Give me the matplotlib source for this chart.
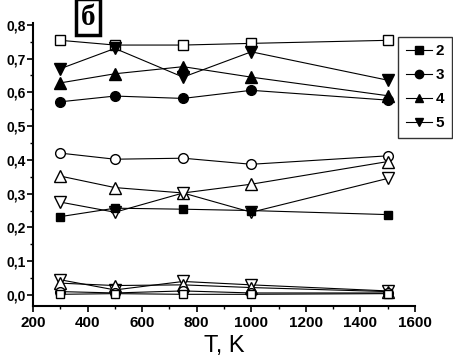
import matplotlib
matplotlib.use('Agg')
import matplotlib.pyplot as plt
from matplotlib.ticker import MultipleLocator, FuncFormatter

# температура, K
T = [300, 500, 750, 1000, 1500]

# верхние кривые
sq_open = [0.754, 0.740, 0.740, 0.745, 0.754]
tri_dn_fill = [0.670, 0.730, 0.645, 0.720, 0.636]
tri_up_fill = [0.628, 0.655, 0.676, 0.645, 0.590]
circ_fill = [0.572, 0.589, 0.582, 0.606, 0.577]
circ_open = [0.420, 0.402, 0.405, 0.387, 0.412]
tri_up_open = [0.352, 0.318, 0.302, 0.328, 0.395]
tri_dn_open = [0.275, 0.245, 0.302, 0.245, 0.345]
sq_fill = [0.232, 0.257, 0.254, 0.250, 0.238]

# нижние кривые (около 0)
low_tri_dn = [0.045, 0.015, 0.040, 0.030, 0.012]
low_tri_up = [0.035, 0.028, 0.030, 0.022, 0.010]
low_circ = [0.010, 0.006, 0.012, 0.006, 0.006]
low_sq = [0.002, 0.004, 0.002, 0.002, 0.004]

legend_labels = ['2', '3', '4', '5']

fig = plt.figure(figsize=(4.53, 3.61), dpi=100)
ax = fig.add_axes([0.073, 0.152, 0.843, 0.784])

kw = dict(color='black', lw=0.8)
ax.plot(T, sq_open, marker='s', ms=7, mfc='white', mec='black', **kw)
ax.plot(T, tri_dn_fill, marker='v', ms=8, mfc='black', **kw)
ax.plot(T, tri_up_fill, marker='^', ms=8, mfc='black', **kw)
ax.plot(T, circ_fill, marker='o', ms=7, mfc='black', **kw)
ax.plot(T, circ_open, marker='o', ms=7, mfc='white', mec='black', **kw)
ax.plot(T, tri_up_open, marker='^', ms=9, mfc='white', mec='black', **kw)
ax.plot(T, tri_dn_open, marker='v', ms=9, mfc='white', mec='black', **kw)
ax.plot(T, sq_fill, marker='s', ms=6, mfc='black', **kw)

ax.plot(T, low_tri_dn, marker='v', ms=8, mfc='white', mec='black', **kw)
ax.plot(T, low_tri_up, marker='^', ms=8, mfc='white', mec='black', **kw)
ax.plot(T, low_circ, marker='o', ms=7, mfc='white', mec='black', **kw)
ax.plot(T, low_sq, marker='s', ms=6, mfc='white', mec='black', **kw)

# легенда
h = []
for m in ['s', 'o', '^', 'v']:
    l, = ax.plot([], [], marker=m, ms=6, color='black', lw=0.8)
    h.append(l)
leg = fig.legend(h, legend_labels, loc='upper right', bbox_to_anchor=(0.997, 0.898),
                 frameon=True, fancybox=False, edgecolor='black', handlelength=1.7,
                 handletextpad=0.25, borderpad=0.5, labelspacing=0.65, borderaxespad=0,
                 prop=dict(family='Liberation Sans', weight='bold', size=11))
leg.get_frame().set_linewidth(1.0)

ax.set_xlim(200, 1600)
ax.set_ylim(-0.033, 0.805)
ax.xaxis.set_major_locator(MultipleLocator(200))
ax.xaxis.set_minor_locator(MultipleLocator(100))
ax.yaxis.set_major_locator(MultipleLocator(0.1))
ax.yaxis.set_minor_locator(MultipleLocator(0.05))
ax.yaxis.set_major_formatter(FuncFormatter(lambda v, p: ('%.1f' % v).replace('.', ',')))

ax.spines['top'].set_visible(False)
ax.spines['right'].set_visible(False)
ax.spines['left'].set_linewidth(1.5)
ax.spines['bottom'].set_linewidth(1.5)
ax.tick_params(which='major', direction='out', length=4, width=1.2)
ax.tick_params(which='minor', direction='out', length=2, width=1.0)
for lab in ax.get_xticklabels():
    lab.set_fontfamily('Liberation Sans')
    lab.set_fontweight('bold')
    lab.set_fontsize(11)
for lab in ax.get_yticklabels():
    lab.set_fontfamily('Liberation Sans')
    lab.set_fontweight('bold')
    lab.set_fontsize(10)
ax.tick_params(axis='y', pad=1)
ax.tick_params(axis='x', pad=3)

ax.set_xlabel('T, K', fontfamily='Liberation Sans', fontsize=17, labelpad=4)

fig.text(0.194, 0.952, 'б', ha='center', va='center', fontsize=21, fontweight='bold',
         fontfamily='Liberation Serif',
         bbox=dict(boxstyle='square,pad=0.15', facecolor='white', edgecolor='black', linewidth=2.5))

fig.savefig('out.png', dpi=100)
